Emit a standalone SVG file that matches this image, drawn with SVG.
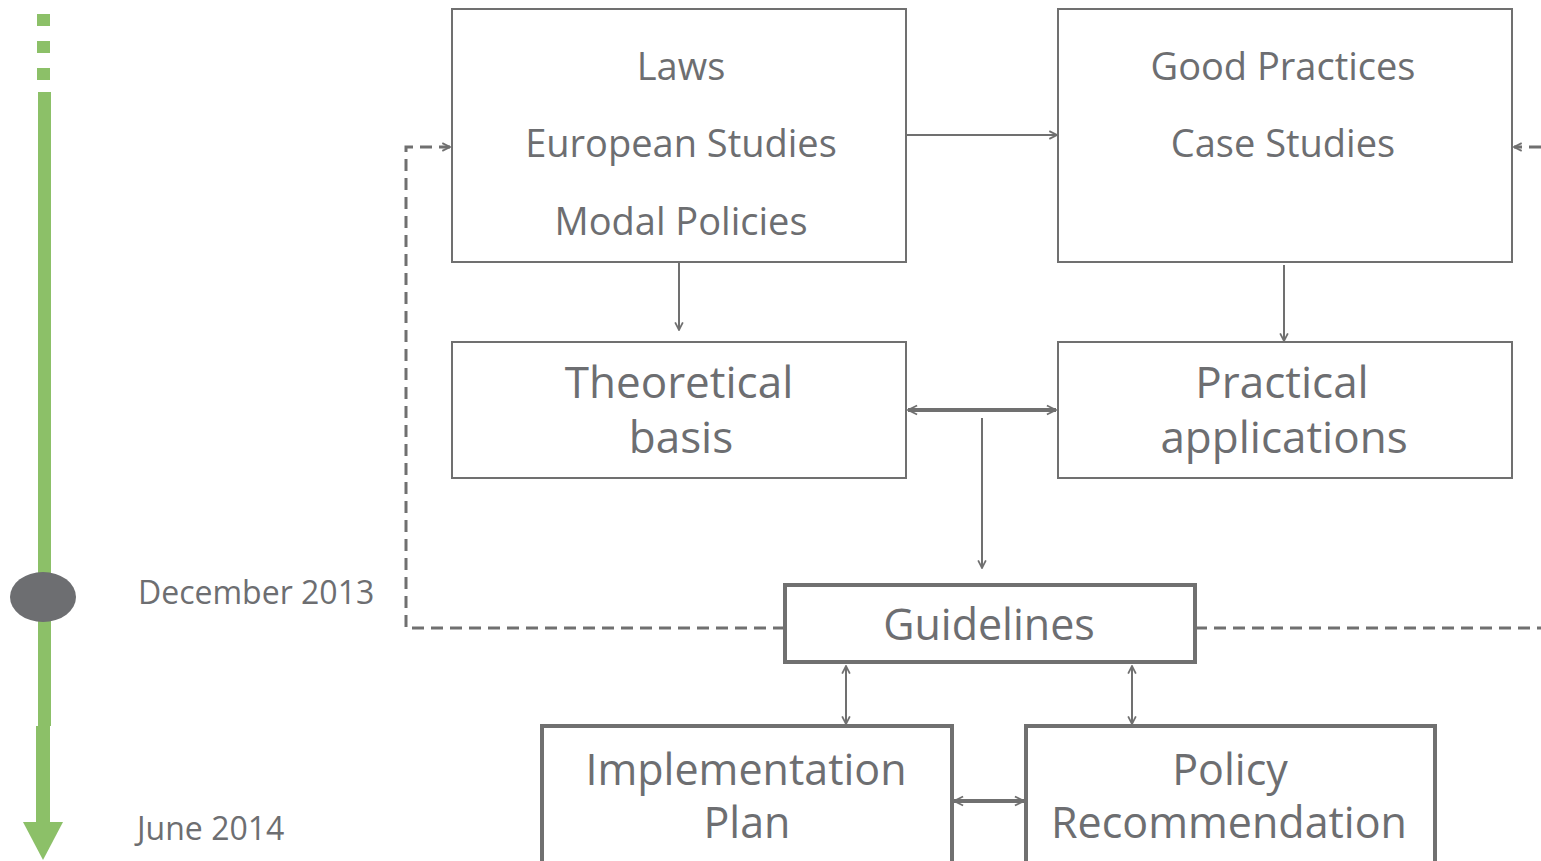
<svg xmlns="http://www.w3.org/2000/svg" width="1541" height="861" viewBox="0 0 1541 861">
<style>
.box{fill:#fff;stroke:#707070;stroke-width:2}
.boxb{fill:#fff;stroke:#707070;stroke-width:4}
.t{font-family:"Open Sans","Liberation Sans",sans-serif;fill:#6d6e71;text-anchor:middle}
.lbl{font-family:"Open Sans","Liberation Sans",sans-serif;fill:#6d6e71;font-size:32px}
.c{fill:none;stroke:#707070;stroke-width:2}
.cb{fill:none;stroke:#707070;stroke-width:4}
.d{fill:none;stroke:#707070;stroke-width:3;stroke-dasharray:12,7}
.g{fill:#8cc068}
</style>
<defs>
<marker id="ah" viewBox="0 0 10 10" refX="9" refY="5" markerWidth="11" markerHeight="11" orient="auto-start-reverse" markerUnits="userSpaceOnUse">
<path d="M2,1.5 L9,5 L2,8.5" fill="none" stroke="#707070" stroke-width="1.6"/>
</marker>
<marker id="ahb" viewBox="0 0 10 10" refX="9" refY="5" markerWidth="13" markerHeight="13" orient="auto-start-reverse" markerUnits="userSpaceOnUse">
<path d="M2,1.5 L9,5 L2,8.5" fill="none" stroke="#707070" stroke-width="1.4"/>
</marker>
</defs>
<g id="timeline">
<rect class="g" x="37" y="14" width="13" height="12"/>
<rect class="g" x="37" y="41" width="13" height="12"/>
<rect class="g" x="37" y="68" width="13" height="12"/>
<rect class="g" x="38" y="92" width="13" height="634"/>
<rect class="g" x="36" y="726" width="14" height="98"/>
<polygon class="g" points="23,822 63,822 43,860"/>
<ellipse cx="43" cy="597" rx="33" ry="25" fill="#6d6e71"/>
<text class="lbl" x="138" y="604">December 2013</text>
<text class="lbl" x="137" y="840">June 2014</text>
</g>
<g id="connectors">
<line class="c" x1="906" y1="135" x2="1057" y2="135" marker-end="url(#ah)"/>
<line class="c" x1="679" y1="256" x2="679" y2="330" marker-end="url(#ah)"/>
<line class="c" x1="1284" y1="265" x2="1284" y2="341" marker-end="url(#ah)"/>
<line class="cb" x1="908" y1="410" x2="1056" y2="410" marker-start="url(#ahb)" marker-end="url(#ahb)"/>
<line class="c" x1="982" y1="418" x2="982" y2="568" marker-end="url(#ah)"/>
<polyline class="d" points="785,628 406,628 406,147 450,147" marker-end="url(#ah)"/>
<polyline class="d" points="1195,628 1550,628"/>
<line class="d" x1="1541" y1="147" x2="1514" y2="147" marker-end="url(#ah)"/>
<line class="c" x1="846" y1="666" x2="846" y2="724" marker-start="url(#ah)" marker-end="url(#ah)"/>
<line class="c" x1="1132" y1="666" x2="1132" y2="724" marker-start="url(#ah)" marker-end="url(#ah)"/>
<line class="cb" x1="954" y1="801" x2="1024" y2="801" marker-start="url(#ahb)" marker-end="url(#ahb)"/>
</g>
<g id="laws">
<rect class="box" x="452" y="9" width="454" height="253"/>
<text class="t" x="681" y="80" font-size="38">Laws</text>
<text class="t" x="681" y="157" font-size="38">European Studies</text>
<text class="t" x="681" y="235" font-size="38">Modal Policies</text>
</g>
<g id="practices">
<rect class="box" x="1058" y="9" width="454" height="253"/>
<text class="t" x="1283" y="80" font-size="38">Good Practices</text>
<text class="t" x="1283" y="157" font-size="38">Case Studies</text>
</g>
<g id="theoretical">
<rect class="box" x="452" y="342" width="454" height="136"/>
<text class="t" x="679" y="398" font-size="44">Theoretical</text>
<text class="t" x="681" y="453" font-size="44">basis</text>
</g>
<g id="practical">
<rect class="box" x="1058" y="342" width="454" height="136"/>
<text class="t" x="1282" y="398" font-size="44">Practical</text>
<text class="t" x="1284" y="453" font-size="44">applications</text>
</g>
<g id="guidelines">
<rect class="boxb" x="785" y="585" width="410" height="77"/>
<text class="t" x="989" y="640" font-size="43">Guidelines</text>
</g>
<g id="implementation">
<rect class="boxb" x="542" y="726" width="410" height="140"/>
<text class="t" x="746" y="785" font-size="43">Implementation</text>
<text class="t" x="747" y="838" font-size="43">Plan</text>
</g>
<g id="policy">
<rect class="boxb" x="1026" y="726" width="409" height="140"/>
<text class="t" x="1230" y="785" font-size="43">Policy</text>
<text class="t" x="1229" y="838" font-size="43">Recommendation</text>
</g>
</svg>
